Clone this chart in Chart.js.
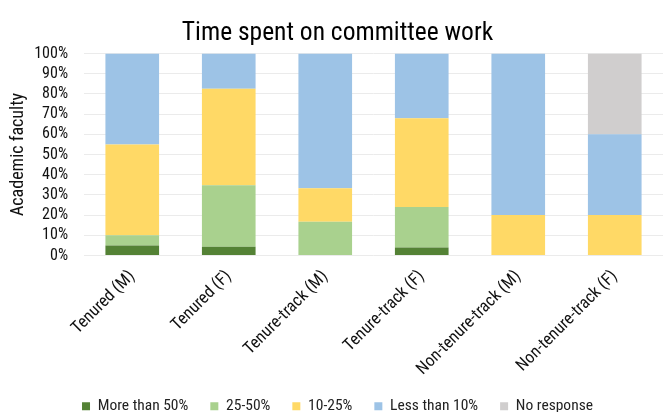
<!DOCTYPE html>
<html>
<head>
<meta charset="utf-8">
<script src="https://cdn.jsdelivr.net/npm/chart.js@4/dist/chart.umd.min.js"></script>
<style>
  html, body { margin: 0; padding: 0; background: #fff; }
  #wrap { width: 663px; height: 412px; position: relative; }
</style>
</head>
<body>
<div id="wrap"><canvas id="chart"></canvas></div>
<script>
// data (percent of respondents per group)
const categories = ["Tenured (M)", "Tenured (F)", "Tenure-track (M)", "Tenure-track (F)", "Non-tenure-track (M)", "Non-tenure-track (F)"];
const moreThan50 = [5, 4.35, 0, 4, 0, 0];
const from25to50 = [5, 30.43, 16.67, 20, 0, 0];
const from10to25 = [45, 47.83, 16.67, 44, 20, 20];
const lessThan10 = [45, 17.39, 66.66, 32, 80, 40];
const noResponse = [0, 0, 0, 0, 0, 40];
const yTicks = [0, 10, 20, 30, 40, 50, 60, 70, 80, 90, 100];

const fontFam = "'Roboto Condensed', 'Liberation Sans Narrow', Roboto, sans-serif";

function ds(label, data, color) {
    return {
        label: label,
        data: data,
        backgroundColor: color,
        borderWidth: 0,
        categoryPercentage: 1,
        barPercentage: 0.556
    };
};

let ctx = document.getElementById("chart").getContext("2d");
let chart = new Chart(ctx, {
    type: "bar",
    data: {
        labels: categories,
        datasets: [
            ds("More than 50%", moreThan50, "#548235"),
            ds("25-50%", from25to50, "#A9D18E"),
            ds("10-25%", from10to25, "#FFD966"),
            ds("Less than 10%", lessThan10, "#9DC3E6"),
            ds("No response", noResponse, "#D0CECE")
        ]
    },
    options: {
        responsive: true,
        maintainAspectRatio: false,
        animation: false,
        layout: { padding: { top: 8, right: 0, left: 12, bottom: -12 } },
        plugins: {
            title: {
                display: true,
                text: "Time spent on committee work",
                color: "#000",
                font: { family: fontFam, size: 25.5, weight: "normal" },
                padding: { top: 10, bottom: 5 }
            },
            legend: {
                position: "bottom",
                labels: {
                    color: "#222",
                    font: { family: fontFam, size: 15.5 },
                    boxWidth: 8,
                    boxHeight: 8,
                    padding: 22
                }
            },
            tooltip: { enabled: false }
        },
        scales: {
            x: {
                stacked: true,
                grid: { display: false },
                border: { display: false },
                afterFit: function (scale) {
                    scale.paddingLeft = 0;
                    scale.paddingRight = 0;
                    scale.height = 121;
                },
                ticks: {
                    color: "#111",
                    font: { family: fontFam, size: 17 },
                    maxRotation: 45,
                    minRotation: 45,
                    autoSkip: false,
                    padding: 3
                }
            },
            y: {
                stacked: true,
                min: 0,
                max: 100,
                afterBuildTicks: function (axis) {
                    axis.ticks = yTicks.map(v => ({ value: v }));
                },
                afterFit: function (scale) {
                    scale.width = 72;
                },
                grid: { color: "#EBEBEB", lineWidth: 1, drawTicks: false },
                border: { display: false },
                title: {
                    display: true,
                    text: "Academic faculty",
                    color: "#111",
                    font: { family: fontFam, size: 18 },
                    padding: { top: -4, bottom: 0 }
                },
                ticks: {
                    color: "#111",
                    font: { family: fontFam, size: 16 },
                    autoSkip: false,
                    padding: 16,
                    callback: v => v + "%"
                }
            }
        }
    }
});
</script>
</body>
</html>
